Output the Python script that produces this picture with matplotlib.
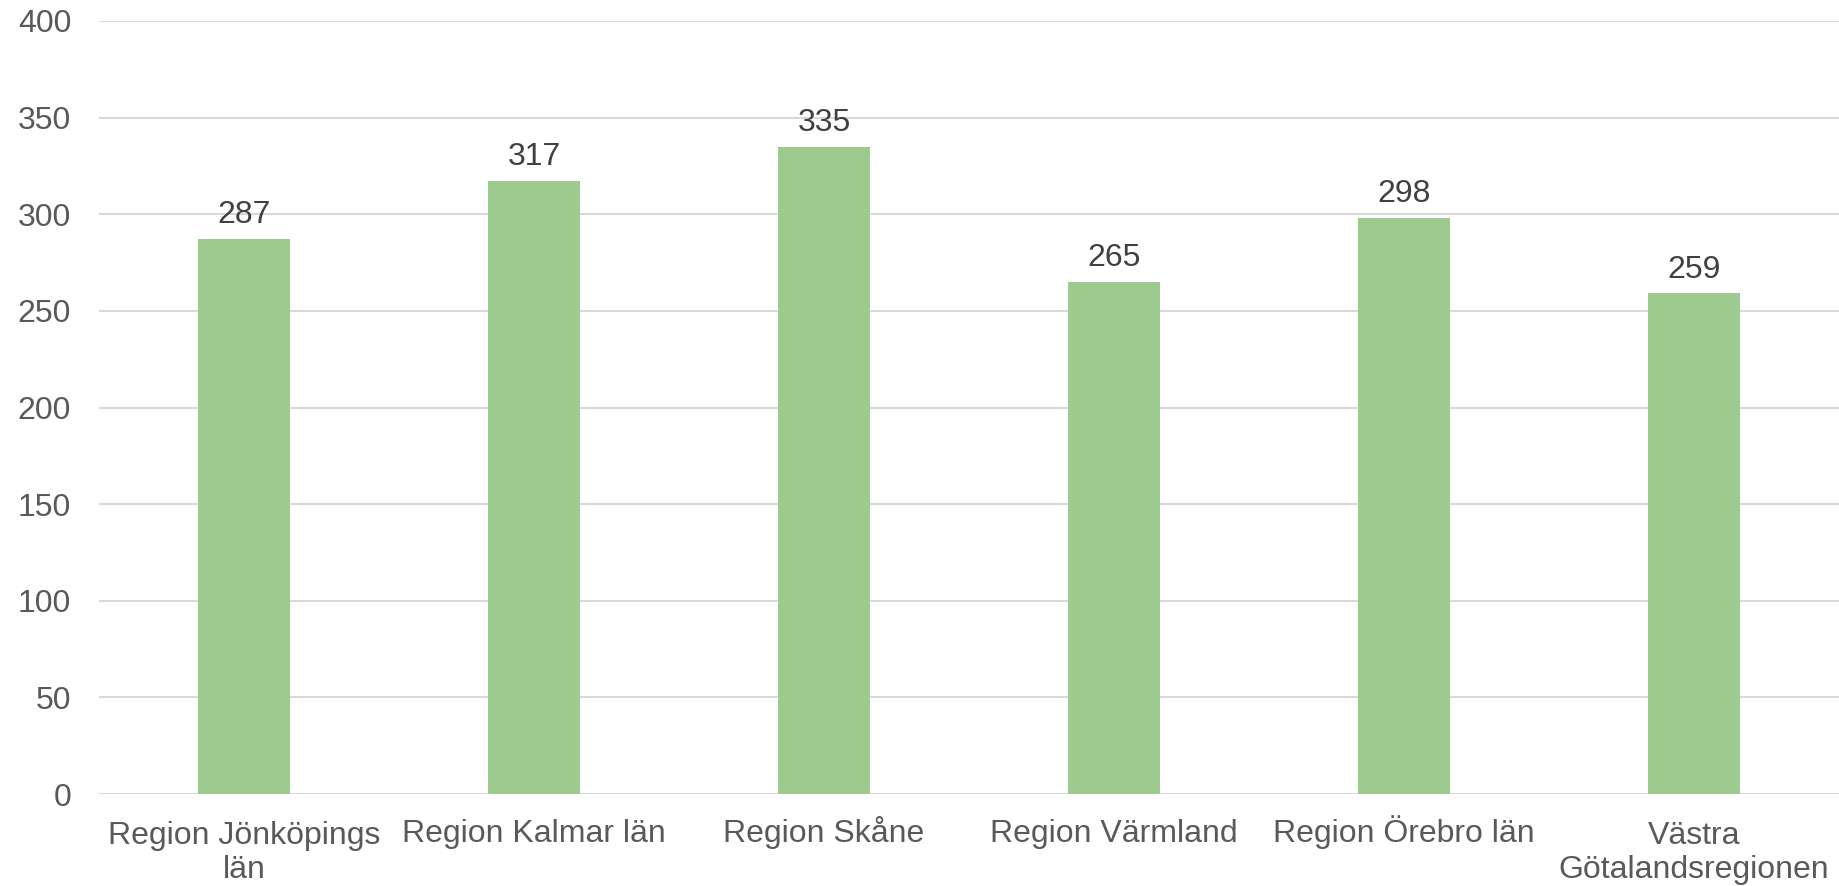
import matplotlib
matplotlib.use('Agg')
import matplotlib.pyplot as plt

plt.rcParams['font.family'] = ['Liberation Sans', 'DejaVu Sans']

# data
regions = ['Region Jönköpings\nlän', 'Region Kalmar län', 'Region Skåne',
           'Region Värmland', 'Region Örebro län', 'Västra\nGötalandsregionen']
values = [287, 317, 335, 265, 298, 259]
yticks = [0, 50, 100, 150, 200, 250, 300, 350, 400]

fig = plt.figure(figsize=(18.39, 8.86), dpi=100)
ax = fig.add_axes([99 / 1839, 92 / 886, 1 - 99 / 1839, (865 - 92) / 886])

x = range(len(regions))
bars = ax.bar(x, values, width=0.314, color='#9dcb8f', zorder=3)

# data labels above bars
for xi, v in zip(x, values):
    ax.annotate(str(v), (xi, v), xytext=(0, 11.5), textcoords='offset points',
                ha='center', va='baseline', fontsize=23, color='#404040')

ax.set_xlim(-0.5, len(regions) - 0.5)
ax.set_ylim(0, 400)
ax.set_yticks(yticks)
ax.set_yticklabels([str(t) for t in yticks], fontsize=23, color='#595959')
ax.set_xticks(list(x))
ax.set_xticklabels(regions, fontsize=23, color='#595959', linespacing=1.18)

ax.grid(axis='y', color='#d9d9d9', linewidth=1.5, zorder=0)
ax.tick_params(axis='both', length=0)
ax.tick_params(axis='y', pad=20)
for s in ax.spines.values():
    s.set_visible(False)

# baseline alignment (baseline = last line), so two-line labels get a bigger pad
for tick, name in zip(ax.xaxis.get_major_ticks(), regions):
    tick.set_pad(60.5 if '\n' in name else 34.5)
    tick.label1.set_verticalalignment('baseline')
    tick.label1.set_clip_on(False)

fig.savefig('out.png', dpi=100)
